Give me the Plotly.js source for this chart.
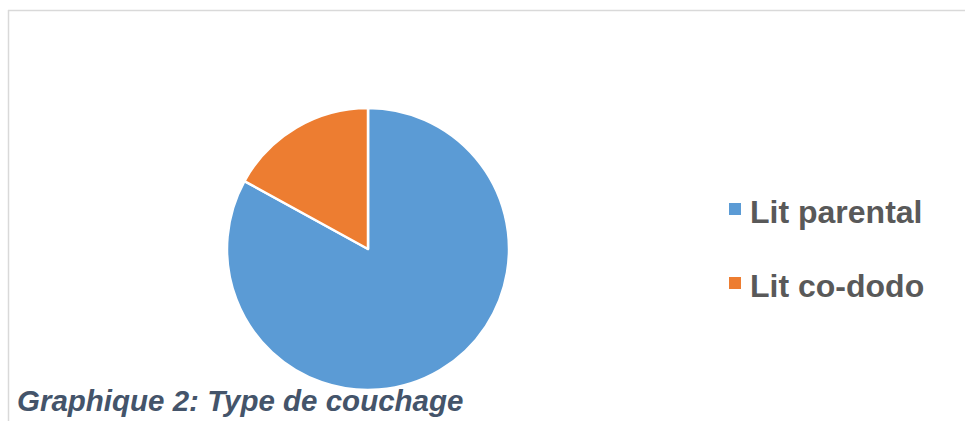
<!DOCTYPE html>
<html>
<head>
<meta charset="utf-8">
<script src="https://cdn.plot.ly/plotly-3.0.1.min.js"></script>
<style>html,body{margin:0;padding:0;background:#fff;}#chart{width:965px;height:421px;}</style>
</head>
<body>
<div id="chart"></div>
<script>
// Data
const categories = ["Lit parental", "Lit co-dodo"];
const values = [83, 17];
const colors = ["#5B9BD5", "#ED7D31"];
const captionText = "Graphique 2: Type de couchage";

const W = 965, H = 421;
const px = x => x / W;
const py = y => 1 - y / H;

// Pie geometry (pixels)
const cx = 368, cy = 249, r = 141;

const trace = {
  type: "pie",
  labels: categories,
  values: values,
  sort: false,
  direction: "clockwise",
  rotation: 0,
  textinfo: "none",
  hoverinfo: "label+percent",
  marker: { colors: colors, line: { color: "#FFFFFF", width: 2.5 } },
  domain: { x: [px(cx - r), px(cx + r)], y: [py(cy + r), py(cy - r)] },
  showlegend: false
};

// Custom legend (large spacing as in the original)
const legX = 729, legTextX = 748, legRowY = [211, 285], sq = 12;
const annotations = categories.map((c, i) => ({
  xref: "paper", yref: "paper",
  x: px(legTextX), y: py(legRowY[i] + 1),
  xanchor: "left", yanchor: "middle",
  text: "<b>" + c + "</b>",
  showarrow: false,
  font: { family: "Liberation Sans, Arial, sans-serif", size: 32, color: "#595959" }
}));
annotations.push({
  xref: "paper", yref: "paper",
  x: px(15), y: py(400),
  xanchor: "left", yanchor: "middle",
  text: "<b><i>" + captionText + "</i></b>",
  showarrow: false,
  font: { family: "Liberation Sans, Arial, sans-serif", size: 29.5, color: "#44546A" }
});

const shapes = categories.map((c, i) => ({
  type: "rect", xref: "paper", yref: "paper",
  x0: px(legX), x1: px(legX + sq),
  y0: py(legRowY[i] - 2 + sq / 2), y1: py(legRowY[i] - 2 - sq / 2),
  fillcolor: colors[i], line: { width: 0 }
}));
shapes.push({ type: "line", xref: "paper", yref: "paper", x0: px(8), x1: 1.01, y0: py(10.5), y1: py(10.5), line: { color: "#D9D9D9", width: 1.5 } });
shapes.push({ type: "line", xref: "paper", yref: "paper", x0: px(8.5), x1: px(8.5), y0: py(10), y1: -0.02, line: { color: "#D9D9D9", width: 1.5 } });

const layout = {
  width: W, height: H,
  margin: { l: 0, r: 0, t: 0, b: 0 },
  paper_bgcolor: "#FFFFFF",
  plot_bgcolor: "#FFFFFF",
  showlegend: false,
  annotations: annotations,
  shapes: shapes,
  font: { family: "Liberation Sans, Arial, sans-serif" }
};

Plotly.newPlot("chart", [trace], layout, { displayModeBar: false, staticPlot: true });
</script>
</body>
</html>
